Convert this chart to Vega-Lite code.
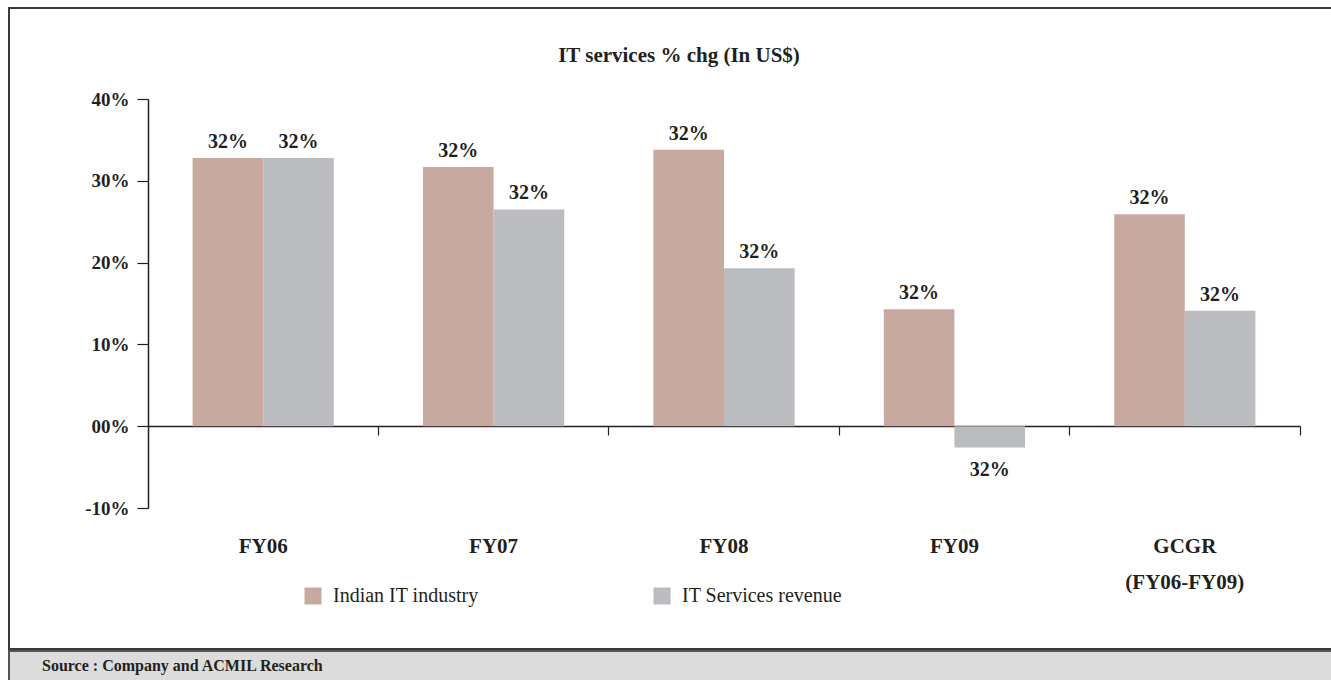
{
  "$schema": "https://vega.github.io/schema/vega-lite/v6.json",
  "padding": {"left": 8, "top": 7, "right": 0, "bottom": 0},
  "spacing": 0,
  "config": {"font": "Liberation Serif", "text": {"font": "Liberation Serif"}},
  "vconcat": [
    {
      "width": 1340,
      "height": 641,
      "view": {"fill": "white", "stroke": "#3a3a3a", "strokeWidth": 2},
      "title": {
        "text": "IT services % chg (In US$)",
        "anchor": "middle",
        "frame": "group",
        "offset": -58,
        "font": "Liberation Serif",
        "fontSize": 21,
        "fontWeight": "bold",
        "color": "#231f20"
      },
      "data": {
        "values": [
          {"period": "FY06", "series": "Indian IT industry", "value": 32.8, "label": "32%"},
          {"period": "FY06", "series": "IT Services revenue", "value": 32.8, "label": "32%"},
          {"period": "FY07", "series": "Indian IT industry", "value": 31.7, "label": "32%"},
          {"period": "FY07", "series": "IT Services revenue", "value": 26.5, "label": "32%"},
          {"period": "FY08", "series": "Indian IT industry", "value": 33.8, "label": "32%"},
          {"period": "FY08", "series": "IT Services revenue", "value": 19.3, "label": "32%"},
          {"period": "FY09", "series": "Indian IT industry", "value": 14.3, "label": "32%"},
          {"period": "FY09", "series": "IT Services revenue", "value": -2.6, "label": "32%"},
          {"period": "GCGR", "series": "Indian IT industry", "value": 25.9, "label": "32%"},
          {"period": "GCGR", "series": "IT Services revenue", "value": 14.1, "label": "32%"}
        ]
      },
      "encoding": {
        "x": {
          "field": "period",
          "type": "nominal",
          "sort": ["FY06", "FY07", "FY08", "FY09", "GCGR"],
          "scale": {"range": [139, 1291], "paddingInner": 0.387, "paddingOuter": 0.1935},
          "axis": {
            "orient": "bottom",
            "offset": -223,
            "title": null,
            "domainColor": "#231f20",
            "domainWidth": 1.5,
            "tickSize": 9,
            "tickWidth": 1.2,
            "tickColor": "#231f20",
            "bandPosition": 1.3157,
            "labelPadding": 100,
            "labelAngle": 0,
            "labelFont": "Liberation Serif",
            "labelFontSize": 21,
            "labelFontWeight": "bold",
            "labelColor": "#231f20",
            "labelLineHeight": 36,
            "labelOverlap": false,
            "labelExpr": "datum.value == 'GCGR' ? ['GCGR', '(FY06-FY09)'] : datum.label"
          }
        },
        "xOffset": {
          "field": "series",
          "type": "nominal",
          "sort": ["Indian IT industry", "IT Services revenue"],
          "scale": {"paddingInner": 0, "paddingOuter": 0}
        },
        "y": {
          "field": "value",
          "type": "quantitative",
          "scale": {"domain": [-10, 40], "range": [500, 91], "nice": false, "zero": false},
          "axis": {
            "orient": "left",
            "offset": -139,
            "values": [-10, 0, 10, 20, 30, 40],
            "labelExpr": "datum.value == 0 ? '00%' : datum.value + '%'",
            "title": null,
            "grid": false,
            "domainColor": "#231f20",
            "domainWidth": 1.5,
            "tickColor": "#231f20",
            "tickSize": 11,
            "tickWidth": 1.2,
            "labelPadding": 8,
            "labelFont": "Liberation Serif",
            "labelFontSize": 19,
            "labelFontWeight": "bold",
            "labelColor": "#231f20"
          }
        }
      },
      "layer": [
        {
          "mark": {"type": "bar"},
          "encoding": {
            "color": {
              "field": "series",
              "type": "nominal",
              "scale": {
                "domain": ["Indian IT industry", "IT Services revenue"],
                "range": ["#c8a99f", "#bbbcc0"]
              },
              "legend": {
                "orient": "none",
                "legendX": 294,
                "legendY": 578,
                "direction": "horizontal",
                "title": null,
                "symbolType": "square",
                "symbolSize": 289,
                "symbolStrokeWidth": 0,
                "labelFont": "Liberation Serif",
                "labelFontSize": 20,
                "labelColor": "#231f20",
                "labelOffset": 10,
                "columnPadding": 173,
                "labelLimit": 300
              }
            }
          }
        },
        {
          "transform": [{"filter": "datum.value >= 0"}],
          "mark": {
            "type": "text",
            "baseline": "bottom",
            "dy": -6,
            "font": "Liberation Serif",
            "fontSize": 20,
            "fontWeight": "bold",
            "color": "#231f20"
          },
          "encoding": {"text": {"field": "label"}}
        },
        {
          "transform": [{"filter": "datum.value < 0"}],
          "mark": {
            "type": "text",
            "baseline": "top",
            "dy": 13,
            "font": "Liberation Serif",
            "fontSize": 20,
            "fontWeight": "bold",
            "color": "#231f20"
          },
          "encoding": {"text": {"field": "label"}}
        }
      ]
    },
    {
      "width": 1340,
      "height": 34,
      "view": {"fill": "#dcdcdc", "stroke": "#555555", "strokeWidth": 2},
      "data": {"values": [{"source": "Source : Company and ACMIL Research"}]},
      "mark": {
        "type": "text",
        "align": "left",
        "baseline": "middle",
        "dx": 33,
        "dy": -2,
        "font": "Liberation Serif",
        "fontSize": 16,
        "fontWeight": "bold",
        "color": "#231f20"
      },
      "encoding": {
        "text": {"field": "source"},
        "x": {"datum": 0, "type": "quantitative", "scale": {"domain": [0, 1]}, "axis": null}
      }
    }
  ]
}
